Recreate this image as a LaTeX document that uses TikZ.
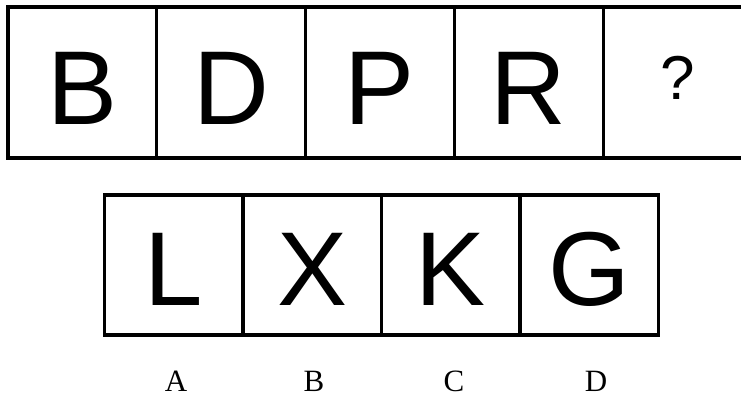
\documentclass[tikz,border=0pt]{standalone}
\usepackage{fontspec}
\setmainfont{Liberation Sans}
\newfontfamily\optfont{Liberation Serif}

\begin{document}
\begin{tikzpicture}[x=1pt, y=-1pt,
        cell/.style={draw, line width=3.2pt, inner sep=0pt, outer sep=0pt,
            minimum width=148.8pt, minimum height=151pt,
            font=\fontsize{105}{105}\selectfont, text height=85pt, text depth=0pt},
        choice/.style={cell, minimum width=138.5pt, minimum height=140pt, text height=80pt},
        query/.style={cell, font=\fontsize{62}{62}\selectfont, text height=45pt, text depth=10pt},
        lbl/.style={font=\optfont\fontsize{31}{31}\selectfont, inner sep=0pt}
    ]
        \useasboundingbox (0,0) rectangle (741,398);
        \clip (0,0) rectangle (741,398);

        % sequence
        \node[cell] (s1) at (82.4, 82.5) {B};
        \node[cell] (s2) at (231.2, 82.5) {D};
        \node[cell] (s3) at (380, 82.5) {P};
        \node[cell] (s4) at (528.8, 82.5) {R};
        \node[query] (s5) at (677.6, 82.5) {?};

        % options
        \node[choice] (c1) at (173.75, 265) {L};
        \node[choice] (c2) at (312.25, 265) {X};
        \node[choice] (c3) at (450.75, 265) {K};
        \node[choice] (c4) at (589.25, 265) {G};

        \node[lbl] (la) at (176, 381) {A};
        \node[lbl] (lb) at (314, 381) {B};
        \node[lbl] (lc) at (454, 381) {C};
        \node[lbl] (ld) at (596, 381) {D};
    \end{tikzpicture}
\end{document}
